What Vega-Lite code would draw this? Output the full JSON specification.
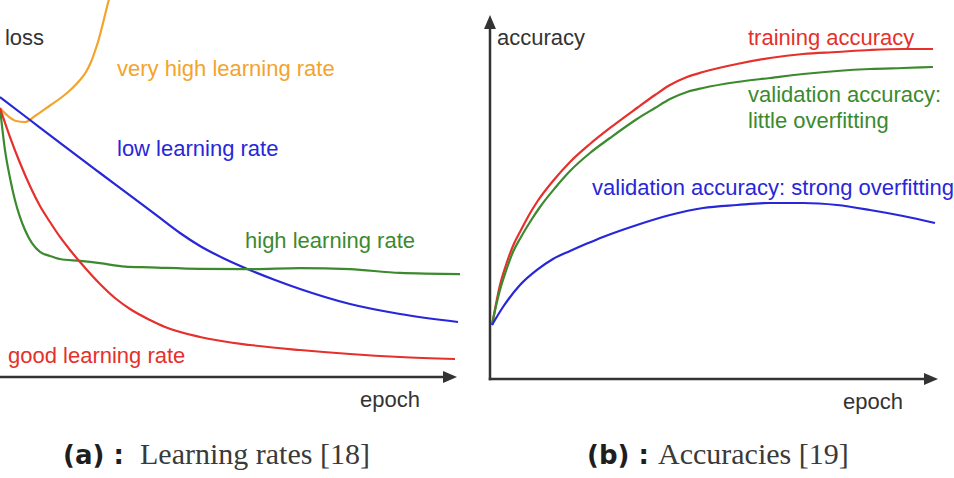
{
  "$schema": "https://vega.github.io/schema/vega-lite/v6.json",
  "padding": 0,
  "spacing": 0,
  "background": "white",
  "config": {"view": {"stroke": null}, "text": {"font": "Liberation Sans"}},
  "resolve": {"scale": {"x": "independent", "y": "independent"}},
  "datasets": {
    "lossCurves": [
      {"series": "very high learning rate", "epoch": 0, "loss": 71.35},
      {"series": "very high learning rate", "epoch": 1.75, "loss": 69.23},
      {"series": "very high learning rate", "epoch": 3.5, "loss": 67.9},
      {"series": "very high learning rate", "epoch": 5.47, "loss": 67.64},
      {"series": "very high learning rate", "epoch": 7.66, "loss": 69.23},
      {"series": "very high learning rate", "epoch": 10.94, "loss": 72.02},
      {"series": "very high learning rate", "epoch": 13.57, "loss": 74.27},
      {"series": "very high learning rate", "epoch": 15.75, "loss": 76.53},
      {"series": "very high learning rate", "epoch": 17.51, "loss": 78.78},
      {"series": "very high learning rate", "epoch": 18.82, "loss": 80.9},
      {"series": "very high learning rate", "epoch": 19.91, "loss": 83.55},
      {"series": "very high learning rate", "epoch": 20.79, "loss": 86.47},
      {"series": "very high learning rate", "epoch": 21.44, "loss": 88.86},
      {"series": "very high learning rate", "epoch": 22.1, "loss": 91.78},
      {"series": "very high learning rate", "epoch": 22.76, "loss": 94.96},
      {"series": "very high learning rate", "epoch": 23.41, "loss": 98.14},
      {"series": "very high learning rate", "epoch": 23.85, "loss": 100.27},
      {"series": "very high learning rate", "epoch": 24.29, "loss": 102.39},
      {"series": "low learning rate", "epoch": 0, "loss": 74.27},
      {"series": "low learning rate", "epoch": 6.56, "loss": 68.17},
      {"series": "low learning rate", "epoch": 13.13, "loss": 62.07},
      {"series": "low learning rate", "epoch": 21.88, "loss": 54.11},
      {"series": "low learning rate", "epoch": 29.54, "loss": 47.21},
      {"series": "low learning rate", "epoch": 35.01, "loss": 42.18},
      {"series": "low learning rate", "epoch": 39.39, "loss": 38.2},
      {"series": "low learning rate", "epoch": 43.76, "loss": 34.75},
      {"series": "low learning rate", "epoch": 49.23, "loss": 31.3},
      {"series": "low learning rate", "epoch": 53.61, "loss": 28.91},
      {"series": "low learning rate", "epoch": 60.18, "loss": 25.73},
      {"series": "low learning rate", "epoch": 65.65, "loss": 23.34},
      {"series": "low learning rate", "epoch": 76.59, "loss": 19.36},
      {"series": "low learning rate", "epoch": 87.53, "loss": 16.71},
      {"series": "low learning rate", "epoch": 100.22, "loss": 14.59},
      {"series": "high learning rate", "epoch": 0, "loss": 71.35},
      {"series": "high learning rate", "epoch": 1.09, "loss": 60.2},
      {"series": "high learning rate", "epoch": 2.19, "loss": 52.8},
      {"series": "high learning rate", "epoch": 3.28, "loss": 46.9},
      {"series": "high learning rate", "epoch": 4.38, "loss": 42.4},
      {"series": "high learning rate", "epoch": 5.47, "loss": 39.0},
      {"series": "high learning rate", "epoch": 7.0, "loss": 35.5},
      {"series": "high learning rate", "epoch": 8.75, "loss": 33.2},
      {"series": "high learning rate", "epoch": 10.94, "loss": 32.1},
      {"series": "high learning rate", "epoch": 13.13, "loss": 31.3},
      {"series": "high learning rate", "epoch": 17.51, "loss": 30.8},
      {"series": "high learning rate", "epoch": 21.88, "loss": 30.2},
      {"series": "high learning rate", "epoch": 27.35, "loss": 29.3},
      {"series": "high learning rate", "epoch": 32.82, "loss": 29.1},
      {"series": "high learning rate", "epoch": 43.76, "loss": 28.7},
      {"series": "high learning rate", "epoch": 54.7, "loss": 28.6},
      {"series": "high learning rate", "epoch": 65.65, "loss": 28.9},
      {"series": "high learning rate", "epoch": 76.59, "loss": 28.6},
      {"series": "high learning rate", "epoch": 87.53, "loss": 27.6},
      {"series": "high learning rate", "epoch": 100.66, "loss": 27.3},
      {"series": "good learning rate", "epoch": 0, "loss": 71.35},
      {"series": "good learning rate", "epoch": 2.19, "loss": 63.66},
      {"series": "good learning rate", "epoch": 4.38, "loss": 56.76},
      {"series": "good learning rate", "epoch": 6.56, "loss": 50.66},
      {"series": "good learning rate", "epoch": 8.75, "loss": 45.36},
      {"series": "good learning rate", "epoch": 10.94, "loss": 41.11},
      {"series": "good learning rate", "epoch": 13.13, "loss": 37.14},
      {"series": "good learning rate", "epoch": 15.32, "loss": 33.69},
      {"series": "good learning rate", "epoch": 17.51, "loss": 30.5},
      {"series": "good learning rate", "epoch": 21.88, "loss": 24.67},
      {"series": "good learning rate", "epoch": 25.16, "loss": 20.95},
      {"series": "good learning rate", "epoch": 28.45, "loss": 18.04},
      {"series": "good learning rate", "epoch": 32.82, "loss": 15.12},
      {"series": "good learning rate", "epoch": 36.11, "loss": 13.26},
      {"series": "good learning rate", "epoch": 43.76, "loss": 10.61},
      {"series": "good learning rate", "epoch": 54.7, "loss": 8.49},
      {"series": "good learning rate", "epoch": 65.65, "loss": 7.16},
      {"series": "good learning rate", "epoch": 76.59, "loss": 6.1},
      {"series": "good learning rate", "epoch": 87.53, "loss": 5.31},
      {"series": "good learning rate", "epoch": 99.56, "loss": 4.77}
    ],
    "lossLabels": [
      {"series": "axis", "epoch": 1.09, "loss": 88.06, "text": "loss"},
      {"series": "very high learning rate", "epoch": 25.6, "loss": 79.84, "text": "very high learning rate"},
      {"series": "low learning rate", "epoch": 25.6, "loss": 58.62, "text": "low learning rate"},
      {"series": "high learning rate", "epoch": 53.61, "loss": 34.22, "text": "high learning rate"},
      {"series": "good learning rate", "epoch": 1.75, "loss": 3.71, "text": "good learning rate"},
      {"series": "axis", "epoch": 78.77, "loss": -7.96, "text": "epoch"}
    ],
    "accCurves": [
      {"series": "training accuracy", "epoch": 0.45, "accuracy": 14.84},
      {"series": "training accuracy", "epoch": 1.34, "accuracy": 20.6},
      {"series": "training accuracy", "epoch": 2.23, "accuracy": 25.82},
      {"series": "training accuracy", "epoch": 3.57, "accuracy": 31.32},
      {"series": "training accuracy", "epoch": 5.13, "accuracy": 36.54},
      {"series": "training accuracy", "epoch": 6.92, "accuracy": 40.93},
      {"series": "training accuracy", "epoch": 8.71, "accuracy": 45.05},
      {"series": "training accuracy", "epoch": 10.49, "accuracy": 48.63},
      {"series": "training accuracy", "epoch": 14.06, "accuracy": 54.4},
      {"series": "training accuracy", "epoch": 17.86, "accuracy": 59.62},
      {"series": "training accuracy", "epoch": 22.32, "accuracy": 64.56},
      {"series": "training accuracy", "epoch": 26.79, "accuracy": 68.96},
      {"series": "training accuracy", "epoch": 32.81, "accuracy": 74.45},
      {"series": "training accuracy", "epoch": 36.83, "accuracy": 78.02},
      {"series": "training accuracy", "epoch": 40.18, "accuracy": 80.77},
      {"series": "training accuracy", "epoch": 43.97, "accuracy": 82.97},
      {"series": "training accuracy", "epoch": 47.54, "accuracy": 84.34},
      {"series": "training accuracy", "epoch": 55.13, "accuracy": 86.54},
      {"series": "training accuracy", "epoch": 62.5, "accuracy": 88.19},
      {"series": "training accuracy", "epoch": 69.87, "accuracy": 89.29},
      {"series": "training accuracy", "epoch": 77.46, "accuracy": 89.84},
      {"series": "training accuracy", "epoch": 84.82, "accuracy": 90.38},
      {"series": "training accuracy", "epoch": 92.19, "accuracy": 90.66},
      {"series": "training accuracy", "epoch": 98.88, "accuracy": 90.66},
      {"series": "validation: little overfitting", "epoch": 0.45, "accuracy": 14.84},
      {"series": "validation: little overfitting", "epoch": 1.34, "accuracy": 20.05},
      {"series": "validation: little overfitting", "epoch": 2.23, "accuracy": 24.45},
      {"series": "validation: little overfitting", "epoch": 3.57, "accuracy": 29.67},
      {"series": "validation: little overfitting", "epoch": 5.13, "accuracy": 34.89},
      {"series": "validation: little overfitting", "epoch": 6.92, "accuracy": 39.01},
      {"series": "validation: little overfitting", "epoch": 8.93, "accuracy": 43.13},
      {"series": "validation: little overfitting", "epoch": 11.16, "accuracy": 47.25},
      {"series": "validation: little overfitting", "epoch": 14.51, "accuracy": 52.47},
      {"series": "validation: little overfitting", "epoch": 17.86, "accuracy": 57.14},
      {"series": "validation: little overfitting", "epoch": 22.32, "accuracy": 62.09},
      {"series": "validation: little overfitting", "epoch": 26.79, "accuracy": 66.21},
      {"series": "validation: little overfitting", "epoch": 32.81, "accuracy": 71.43},
      {"series": "validation: little overfitting", "epoch": 36.83, "accuracy": 74.45},
      {"series": "validation: little overfitting", "epoch": 40.18, "accuracy": 76.92},
      {"series": "validation: little overfitting", "epoch": 43.97, "accuracy": 78.85},
      {"series": "validation: little overfitting", "epoch": 47.54, "accuracy": 79.95},
      {"series": "validation: little overfitting", "epoch": 55.13, "accuracy": 81.59},
      {"series": "validation: little overfitting", "epoch": 62.5, "accuracy": 82.69},
      {"series": "validation: little overfitting", "epoch": 69.87, "accuracy": 83.79},
      {"series": "validation: little overfitting", "epoch": 77.46, "accuracy": 84.62},
      {"series": "validation: little overfitting", "epoch": 84.82, "accuracy": 85.16},
      {"series": "validation: little overfitting", "epoch": 92.19, "accuracy": 85.44},
      {"series": "validation: little overfitting", "epoch": 98.88, "accuracy": 85.71},
      {"series": "validation: strong overfitting", "epoch": 0.45, "accuracy": 14.84},
      {"series": "validation: strong overfitting", "epoch": 2.9, "accuracy": 19.78},
      {"series": "validation: strong overfitting", "epoch": 6.7, "accuracy": 25.82},
      {"series": "validation: strong overfitting", "epoch": 10.49, "accuracy": 29.95},
      {"series": "validation: strong overfitting", "epoch": 14.06, "accuracy": 32.97},
      {"series": "validation: strong overfitting", "epoch": 17.86, "accuracy": 35.16},
      {"series": "validation: strong overfitting", "epoch": 21.65, "accuracy": 37.2},
      {"series": "validation: strong overfitting", "epoch": 25.22, "accuracy": 39.01},
      {"series": "validation: strong overfitting", "epoch": 32.81, "accuracy": 42.31},
      {"series": "validation: strong overfitting", "epoch": 40.18, "accuracy": 45.05},
      {"series": "validation: strong overfitting", "epoch": 47.54, "accuracy": 46.98},
      {"series": "validation: strong overfitting", "epoch": 55.13, "accuracy": 47.8},
      {"series": "validation: strong overfitting", "epoch": 62.5, "accuracy": 48.35},
      {"series": "validation: strong overfitting", "epoch": 69.87, "accuracy": 48.35},
      {"series": "validation: strong overfitting", "epoch": 77.46, "accuracy": 47.8},
      {"series": "validation: strong overfitting", "epoch": 84.82, "accuracy": 46.43},
      {"series": "validation: strong overfitting", "epoch": 92.19, "accuracy": 44.78},
      {"series": "validation: strong overfitting", "epoch": 99.33, "accuracy": 42.86}
    ],
    "accLabels": [
      {"series": "axis", "epoch": 1.56, "accuracy": 91.76, "text": "accuracy"},
      {"series": "training accuracy", "epoch": 57.59, "accuracy": 91.76, "text": "training accuracy"},
      {"series": "validation: little overfitting", "epoch": 57.59, "accuracy": 76.1, "text": "validation accuracy:"},
      {"series": "validation: little overfitting", "epoch": 57.59, "accuracy": 68.96, "text": "little overfitting"},
      {"series": "validation: strong overfitting", "epoch": 22.77, "accuracy": 50.55, "text": "validation accuracy: strong overfitting"},
      {"series": "axis", "epoch": 78.79, "accuracy": -8.24, "text": "epoch"}
    ]
  },
  "hconcat": [
    {
      "width": 470,
      "height": 478,
      "encoding": {
        "x": {"field": "epoch", "type": "quantitative", "scale": {"domain": [0, 102.84], "nice": false, "zero": false}, "axis": null},
        "y": {"field": "loss", "type": "quantitative", "scale": {"domain": [-26.79, 100], "nice": false, "zero": false}, "axis": null}
      },
      "layer": [
        {
          "data": {"values": [{"epoch": -2, "epoch2": 97.6, "loss": 0}]},
          "mark": {"type": "rule", "color": "#333333", "strokeWidth": 2.5, "clip": true},
          "encoding": {"x2": {"field": "epoch2"}}
        },
        {
          "data": {"values": [{"epoch": 100, "loss": 0}]},
          "mark": {"type": "point", "shape": "M0,0L-2,-0.85L-2,0.85Z", "size": 196, "filled": true, "opacity": 1, "color": "#333333", "strokeWidth": 0, "clip": true},
          "encoding": {}
        },
        {
          "data": {"name": "lossCurves"},
          "mark": {"type": "line", "interpolate": "monotone", "strokeWidth": 2.2, "clip": true},
          "encoding": {
            "color": {"field": "series", "type": "nominal", "legend": null,
              "scale": {"domain": ["very high learning rate", "low learning rate", "high learning rate", "good learning rate", "training accuracy", "validation: little overfitting", "validation: strong overfitting", "axis"],
                        "range": ["#f3a42c", "#2727d9", "#3c8a2e", "#e5302b", "#e5302b", "#3c8a2e", "#2727d9", "#333333"]}}
          }
        },
        {
          "data": {"name": "lossLabels"},
          "mark": {"type": "text", "align": "left", "baseline": "alphabetic", "fontSize": 22, "font": "Liberation Sans", "clip": true},
          "encoding": {
            "text": {"field": "text"},
            "color": {"field": "series", "type": "nominal", "legend": null,
              "scale": {"domain": ["very high learning rate", "low learning rate", "high learning rate", "good learning rate", "training accuracy", "validation: little overfitting", "validation: strong overfitting", "axis"],
                        "range": ["#f3a42c", "#2727d9", "#3c8a2e", "#e5302b", "#e5302b", "#3c8a2e", "#2727d9", "#333333"]}}
          }
        },
        {
          "data": {"values": [{"epoch": 13.79, "loss": -23.08, "text": "(a) :"}]},
          "mark": {"type": "text", "align": "left", "baseline": "alphabetic", "fontSize": 26, "font": "DejaVu Sans", "fontWeight": "bold", "color": "#1e1e1e", "clip": true},
          "encoding": {"text": {"field": "text"}}
        },
        {
          "data": {"values": [{"epoch": 30.63, "loss": -23.08, "text": "Learning rates [18]"}]},
          "mark": {"type": "text", "align": "left", "baseline": "alphabetic", "fontSize": 30, "font": "Liberation Serif", "color": "#3a3a3a", "clip": true},
          "encoding": {"text": {"field": "text"}}
        }
      ]
    },
    {
      "width": 484,
      "height": 478,
      "encoding": {
        "x": {"field": "epoch", "type": "quantitative", "scale": {"domain": [-4.464, 103.57], "nice": false, "zero": false}, "axis": null},
        "y": {"field": "accuracy", "type": "quantitative", "scale": {"domain": [-27.2, 104.12], "nice": false, "zero": false}, "axis": null}
      },
      "layer": [
        {
          "data": {"values": [{"epoch": 0, "epoch2": 97.3, "accuracy": 0, "accuracy2": 0}, {"epoch": 0, "epoch2": 0, "accuracy": 0, "accuracy2": 96.7}]},
          "mark": {"type": "rule", "color": "#333333", "strokeWidth": 2.5, "strokeCap": "square", "clip": true},
          "encoding": {"x2": {"field": "epoch2"}, "y2": {"field": "accuracy2"}}
        },
        {
          "data": {"values": [{"epoch": 100, "accuracy": 0}]},
          "mark": {"type": "point", "shape": "M0,0L-2,-0.85L-2,0.85Z", "size": 196, "filled": true, "opacity": 1, "color": "#333333", "strokeWidth": 0, "clip": true},
          "encoding": {}
        },
        {
          "data": {"values": [{"epoch": 0, "accuracy": 100}]},
          "mark": {"type": "point", "shape": "M0,0L-0.85,2L0.85,2Z", "size": 196, "filled": true, "opacity": 1, "color": "#333333", "strokeWidth": 0, "clip": true},
          "encoding": {}
        },
        {
          "data": {"name": "accCurves"},
          "mark": {"type": "line", "interpolate": "monotone", "strokeWidth": 2.2, "clip": true},
          "encoding": {
            "color": {"field": "series", "type": "nominal", "legend": null,
              "scale": {"domain": ["very high learning rate", "low learning rate", "high learning rate", "good learning rate", "training accuracy", "validation: little overfitting", "validation: strong overfitting", "axis"],
                        "range": ["#f3a42c", "#2727d9", "#3c8a2e", "#e5302b", "#e5302b", "#3c8a2e", "#2727d9", "#333333"]}}
          }
        },
        {
          "data": {"name": "accLabels"},
          "mark": {"type": "text", "align": "left", "baseline": "alphabetic", "fontSize": 22, "font": "Liberation Sans", "clip": true},
          "encoding": {
            "text": {"field": "text"},
            "color": {"field": "series", "type": "nominal", "legend": null,
              "scale": {"domain": ["very high learning rate", "low learning rate", "high learning rate", "good learning rate", "training accuracy", "validation: little overfitting", "validation: strong overfitting", "axis"],
                        "range": ["#f3a42c", "#2727d9", "#3c8a2e", "#e5302b", "#e5302b", "#3c8a2e", "#2727d9", "#333333"]}}
          }
        },
        {
          "data": {"values": [{"epoch": 21.65, "accuracy": -23.35, "text": "(b) :"}]},
          "mark": {"type": "text", "align": "left", "baseline": "alphabetic", "fontSize": 26, "font": "DejaVu Sans", "fontWeight": "bold", "color": "#1e1e1e", "clip": true},
          "encoding": {"text": {"field": "text"}}
        },
        {
          "data": {"values": [{"epoch": 37.5, "accuracy": -23.35, "text": "Accuracies [19]"}]},
          "mark": {"type": "text", "align": "left", "baseline": "alphabetic", "fontSize": 30, "font": "Liberation Serif", "color": "#3a3a3a", "clip": true},
          "encoding": {"text": {"field": "text"}}
        }
      ]
    }
  ]
}
